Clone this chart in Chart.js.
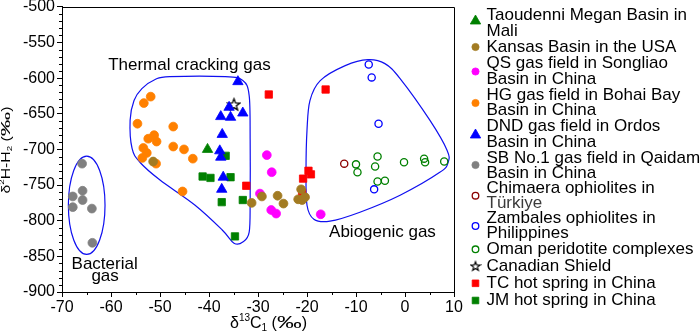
<!DOCTYPE html>
<html><head><meta charset="utf-8">
<script src="https://cdn.jsdelivr.net/npm/chart.js@4.4.1/dist/chart.umd.min.js"></script>
<style>html,body{margin:0;padding:0;background:#fff;overflow:hidden}#wrap{width:700px;height:335px}</style>
</head><body><div id="wrap"><canvas id="c" width="700" height="335"></canvas></div>
<script>
// ---- axis ticks ----
const xTickValues = [-70,-60,-50,-40,-30,-20,-10,0,10];
const yTickValues = [-500,-550,-600,-650,-700,-750,-800,-850,-900];

// ---- series names (legend lines) ----
const seriesNames = [
  ["Taoudenni Megan Basin in","Mali"],
  ["Kansas Basin in the USA"],
  ["QS gas field in Songliao","Basin in China"],
  ["HG gas field in Bohai Bay","Basin in China"],
  ["DND gas field in Ordos","Basin in China"],
  ["SB No.1 gas field in Qaidam","Basin in China"],
  ["Chimaera ophiolites in","Türkiye"],
  ["Zambales ophiolites in","Philippines"],
  ["Oman peridotite complexes"],
  ["Canadian Shield"],
  ["TC hot spring in China"],
  ["JM hot spring in China"]
];

// ---- data: [δ13C1, δ2H-H2] ----
const taoudenni = [[-40.3,-700]];
const kansas = [[-51.4,-717],[-31.3,-775],[-29.2,-766],[-26,-765],[-24.8,-776],[-21.8,-770],[-21.2,-756],[-20.4,-767],[-21,-771]];
const qs = [[-28.2,-708],[-27.2,-732],[-29.6,-762],[-27.3,-785],[-26.3,-790],[-17.2,-791]];
const hg = [[-51.9,-626],[-53.3,-635],[-54.6,-664],[-47.3,-668],[-51.2,-680],[-52.4,-685],[-50.7,-689],[-53.4,-698],[-52.7,-705],[-53.6,-712],[-50.8,-720],[-47.3,-696],[-45.1,-700],[-43.3,-713],[-45.4,-759]];
const dnd = [[-34.1,-605],[-35.9,-641],[-37.6,-654],[-35.6,-655],[-33.1,-649],[-37.3,-679],[-37.8,-702],[-37.6,-711],[-37.1,-739],[-37.4,-756]];
const sb = [[-65.9,-720],[-67.8,-766],[-65.8,-758],[-65.8,-771],[-67.8,-781],[-63.9,-783],[-63.8,-831]];
const chimaera = [[-12.4,-720]];
const zambales = [[-7.4,-581],[-6.8,-599],[-5.4,-664],[-6.3,-756]];
const oman = [[-10,-721],[-9.7,-732],[-5.6,-710],[-6.1,-724],[-5.6,-745],[-4.1,-744],[-0.2,-718],[3.9,-713],[4.1,-718],[8,-717]];
const canadian = [[-34.9,-637]];
const tc = [[-27.8,-623],[-16.2,-616],[-32.4,-751],[-19.7,-730],[-19.2,-735],[-20.8,-741],[-21,-761]];
const jm = [[-36.6,-709],[-41.3,-738],[-39.7,-740],[-35.6,-739],[-37.4,-774],[-33.1,-771],[-34.7,-822]];

// ---- genetic field outlines (data coordinates) ----
const thermalOutline = [[-48,-598],[-36.7,-598],[-33.1,-603.5],[-31.8,-624.5],[-31.6,-687],[-31.6,-771],[-31.8,-816],[-33.1,-830],[-34.9,-831.5],[-37.3,-813],[-42.9,-778],[-50,-743],[-54.1,-718],[-55.7,-698.6],[-56.1,-659],[-55.3,-631.5],[-53.7,-614.7],[-51,-602]];
const abiogenicOutline = [[-20,-673],[-19.4,-631.5],[-17.3,-603.5],[-12.2,-582.5],[-7.55,-574.1],[-4.1,-579.7],[-1,-600.7],[5.1,-659.4],[8.6,-701.4],[8.8,-718.2],[7.1,-732.2],[-1,-764.3],[-9.2,-788.1],[-15.3,-800.7],[-18.6,-797.9],[-20,-778.3],[-20.2,-729.4]];
const bacterialEllipse = {cx:-64.96, cy:-778.3, rx:3.74, ry:69};
const fieldLabels = [
  {text:"Thermal cracking gas", x:-44.0, y:-582.5},
  {text:"Bacterial", x:-61.3, y:-860.8},
  {text:"gas", x:-61.2, y:-878.6},
  {text:"Abiogenic gas", x:-4.6, y:-815.7}
];

const FONT = '"Liberation Sans", Arial, sans-serif';
const toXY = arr => arr.map(p => ({x:p[0], y:p[1]}));

function makeStar(size, outerR, innerR, lw){
  const c = document.createElement('canvas');
  c.width = size; c.height = size;
  const g = c.getContext('2d');
  g.beginPath();
  for (let i=0;i<10;i++){
    const r = i%2===0 ? outerR : innerR;
    const a = -Math.PI/2 + i*Math.PI/5;
    const px = size/2 + r*Math.cos(a), py = size/2 + r*Math.sin(a) + 0.5;
    if(i===0) g.moveTo(px,py); else g.lineTo(px,py);
  }
  g.closePath();
  g.fillStyle = '#fff'; g.fill();
  g.lineWidth = lw; g.strokeStyle = '#000'; g.stroke();
  return c;
}
const starBig = makeStar(15, 6.2, 2.6, 1.3);
const starSmall = makeStar(12, 4.8, 2.0, 1.2);

const styles = [
  {data:taoudenni, style:'triangle', r:6, color:'#008000', fill:true},
  {data:kansas, style:'circle', r:4.4, color:'#A27B22', fill:true},
  {data:qs, style:'circle', r:4.4, color:'#FF00FF', fill:true},
  {data:hg, style:'circle', r:4.4, color:'#FF8000', fill:true},
  {data:dnd, style:'triangle', r:6, color:'#0000FF', fill:true},
  {data:sb, style:'circle', r:4.4, color:'#808080', fill:true},
  {data:chimaera, style:'circle', r:3.6, color:'#8B0000', fill:false},
  {data:zambales, style:'circle', r:3.6, color:'#0000FF', fill:false},
  {data:oman, style:'circle', r:3.6, color:'#008000', fill:false},
  {data:canadian, style:starBig, r:6, color:'#000000', fill:true},
  {data:tc, style:'rect', r:5.2, color:'#FF0000', fill:true},
  {data:jm, style:'rect', r:5.2, color:'#008000', fill:true}
];

const datasets = styles.map((s,i) => ({
  label: seriesNames[i].join(' '),
  data: toXY(s.data),
  showLine: false,
  pointStyle: s.style,
  pointRadius: s.r,
  pointHoverRadius: s.r,
  pointBackgroundColor: s.fill ? s.color : 'rgba(0,0,0,0)',
  pointBorderColor: s.color,
  pointBorderWidth: s.fill ? 0.8 : 1.3
}));

// legend layout (pixel positions)
const legendLayout = [
  {my:21, ly:[15,31]},
  {my:47, ly:[47]},
  {my:71.5, ly:[63,79]},
  {my:103, ly:[95,110.5]},
  {my:135, ly:[126.5,142]},
  {my:165, ly:[158,173.3]},
  {my:195.7, ly:[188.3,203.3]},
  {my:226, ly:[218.3,233.3]},
  {my:249.3, ly:[249.3]},
  {my:266, ly:[266]},
  {my:283.3, ly:[283.3]},
  {my:300.5, ly:[300.5]}
];
const legendSizes = [6, 3.6, 3.6, 3.6, 6, 3.6, 3.3, 3.3, 3.3, 0, 4.7, 4.7];

function closedSpline(ctx, pts){
  const n = pts.length;
  ctx.moveTo(pts[0][0], pts[0][1]);
  for (let i=0;i<n;i++){
    const p0=pts[(i-1+n)%n], p1=pts[i], p2=pts[(i+1)%n], p3=pts[(i+2)%n];
    ctx.bezierCurveTo(p1[0]+(p2[0]-p0[0])/6, p1[1]+(p2[1]-p0[1])/6,
                      p2[0]-(p3[0]-p1[0])/6, p2[1]-(p3[1]-p1[1])/6, p2[0], p2[1]);
  }
  ctx.closePath();
}

function richWidth(ctx, segs){
  let w = 0;
  segs.forEach(s => { ctx.font = s.size+'px '+FONT; w += ctx.measureText(s.t).width*(s.sx||1); });
  return w;
}
function drawRich(ctx, segs, x, y){
  segs.forEach(s => {
    ctx.font = s.size+'px '+FONT;
    const w = ctx.measureText(s.t).width;
    ctx.save();
    ctx.translate(x, y + (s.dy||0));
    ctx.scale(s.sx||1, 1);
    ctx.fillText(s.t, 0, 0);
    ctx.restore();
    x += w*(s.sx||1);
  });
}

const decorPlugin = {
  id:'decor',
  beforeDatasetsDraw(chart){
    const {ctx, scales:{x, y}} = chart;
    ctx.save();
    ctx.strokeStyle = '#1010F0';
    ctx.lineWidth = 1.2;
    [thermalOutline, abiogenicOutline].forEach(o => {
      const pts = o.map(p => [x.getPixelForValue(p[0]), y.getPixelForValue(p[1])]);
      ctx.beginPath(); closedSpline(ctx, pts); ctx.stroke();
    });
    const e = bacterialEllipse;
    const cx = x.getPixelForValue(e.cx), cy = y.getPixelForValue(e.cy);
    const rx = Math.abs(x.getPixelForValue(e.cx+e.rx)-cx), ry = Math.abs(y.getPixelForValue(e.cy+e.ry)-cy);
    ctx.beginPath(); ctx.ellipse(cx, cy, rx, ry, 0, 0, Math.PI*2); ctx.stroke();
    // field labels
    ctx.fillStyle = '#000';
    ctx.font = '17px '+FONT;
    ctx.textAlign = 'center'; ctx.textBaseline = 'middle';
    fieldLabels.forEach(l => ctx.fillText(l.text, x.getPixelForValue(l.x), y.getPixelForValue(l.y)));
    ctx.restore();
  },
  afterDraw(chart){
    const {ctx, chartArea:a, scales:{x, y}} = chart;
    ctx.save();
    // frame top & right
    ctx.strokeStyle = '#000'; ctx.lineWidth = 1;
    ctx.beginPath();
    ctx.moveTo(Math.round(a.left), Math.round(a.top)+0.5);
    ctx.lineTo(Math.round(a.right)+0.5, Math.round(a.top)+0.5);
    ctx.lineTo(Math.round(a.right)+0.5, Math.round(a.bottom));
    ctx.stroke();
    // minor ticks
    ctx.beginPath();
    for (let v=x.min; v<=x.max; v+=5){
      if (v%10===0) continue;
      const px = Math.round(x.getPixelForValue(v))+0.5;
      ctx.moveTo(px, a.bottom); ctx.lineTo(px, a.bottom+3);
    }
    for (let v=y.min; v<=y.max; v+=10){
      if (v%50===0) continue;
      const py = Math.round(y.getPixelForValue(v))+0.5;
      ctx.moveTo(a.left, py); ctx.lineTo(a.left-3, py);
    }
    ctx.stroke();
    // axis titles
    ctx.fillStyle = '#000'; ctx.textBaseline = 'middle'; ctx.textAlign = 'left';
    const xt = [{t:'δ',size:16},{t:'13',size:10,dy:-6},{t:'C',size:16},{t:'1',size:10,dy:4},{t:' (',size:16},{t:'‰',size:16,sx:1.55},{t:')',size:16}];
    const xw = richWidth(ctx, xt);
    drawRich(ctx, xt, 268.5 - xw/2, 324);
    const yt = [{t:'δ',size:13},{t:'2',size:8,dy:-5},{t:'H-H',size:13},{t:'2',size:8,dy:3},{t:' (',size:13},{t:'‰',size:13,sx:1.55},{t:')',size:13}];
    const yw = richWidth(ctx, yt);
    ctx.save();
    ctx.translate(6.5, 150);
    ctx.rotate(-Math.PI/2);
    const sx = 87/yw;
    ctx.scale(sx, 1);
    drawRich(ctx, yt, -yw/2, 0);
    ctx.restore();
    // legend
    const lx = 475.5, tx = 486.5;
    chart.data.datasets.forEach((ds, i) => {
      const L = legendLayout[i];
      if (ds.pointStyle instanceof HTMLCanvasElement){
        ctx.drawImage(starSmall, lx - starSmall.width/2, L.my - starSmall.height/2);
      } else {
        ctx.fillStyle = ds.pointBackgroundColor;
        ctx.strokeStyle = ds.pointBorderColor;
        ctx.lineWidth = ds.pointBorderWidth;
        Chart.helpers.drawPoint(ctx, {pointStyle: ds.pointStyle, radius: legendSizes[i], borderWidth: ds.pointBorderWidth, rotation:0}, lx, L.my);
      }
      ctx.font = '17px '+FONT;
      ctx.textAlign = 'left'; ctx.textBaseline = 'middle';
      seriesNames[i].forEach((line, j) => {
        ctx.fillStyle = (line === 'Türkiye') ? '#3a3a3a' : '#000';
        ctx.fillText(line, tx, L.ly[j]);
      });
    });
    ctx.restore();
  }
};

new Chart(document.getElementById('c'), {
  type:'scatter',
  data:{datasets},
  options:{
    responsive:false, animation:false, devicePixelRatio:1,
    layout:{padding:{top:6, right:246, bottom:0, left:0}},
    plugins:{legend:{display:false}, tooltip:{enabled:false}},
    scales:{
      x:{
        type:'linear', min:-70, max:10,
        afterBuildTicks: s => { s.ticks = xTickValues.map(v => ({value:v})); },
        ticks:{font:{size:16, family:FONT}, color:'#000', padding:1, maxRotation:0, autoSkip:false},
        grid:{drawOnChartArea:false, drawTicks:true, tickLength:5, color:'#000', lineWidth:1},
        border:{display:true, color:'#000', width:1},
        afterFit: s => { s.height = 43; s.paddingLeft = 0; s.paddingRight = 0; }
      },
      y:{
        type:'linear', min:-900, max:-500,
        afterBuildTicks: s => { s.ticks = yTickValues.map(v => ({value:v})); },
        ticks:{font:{size:16, family:FONT}, color:'#000', padding:2, autoSkip:false},
        grid:{drawOnChartArea:false, drawTicks:true, tickLength:5, color:'#000', lineWidth:1},
        border:{display:true, color:'#000', width:1},
        afterFit: s => { s.width = 62; s.paddingTop = 0; s.paddingBottom = 0; }
      }
    }
  },
  plugins:[decorPlugin]
});
</script>
</body></html>
